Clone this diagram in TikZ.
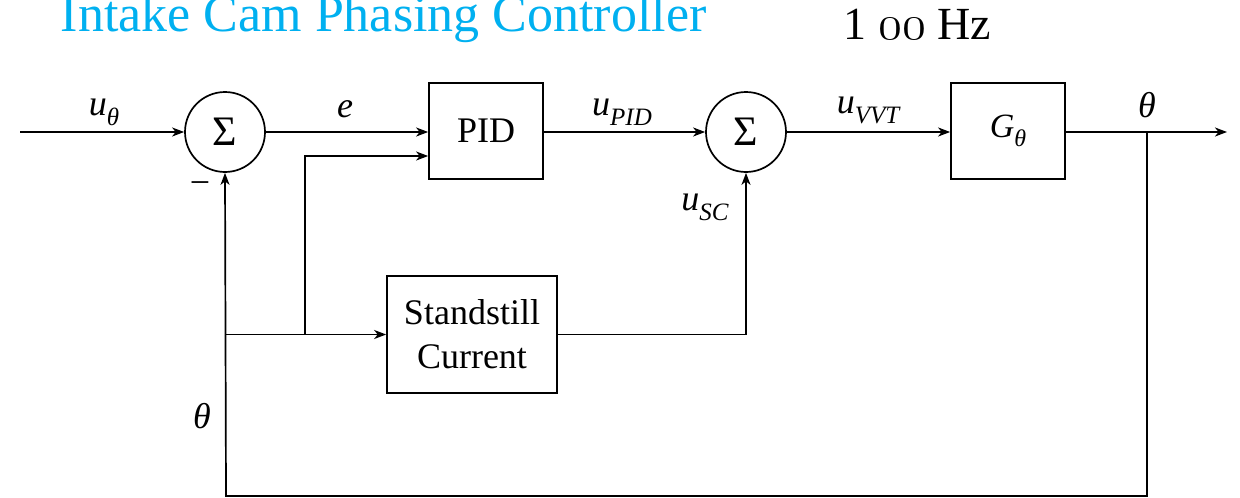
\documentclass[tikz,border=0pt]{standalone}
\usepackage{fontspec}
\setmainfont{Liberation Serif}
\usetikzlibrary{arrows.meta}
\definecolor{titlecyan}{RGB}{0,176,240}
\newcommand\subs[2][25]{\raisebox{-0.28em}{\fontsize{#1}{#1}\selectfont\itshape #2}}
\newcommand\oldnum[1]{\resizebox{!}{21pt}{\usefont{OML}{cmm}{m}{it}#1}}
\begin{document}
\begin{tikzpicture}[x=1pt,y=-1pt,
  line width=1.7pt,
  arr/.style={-{Stealth[length=12pt,width=9pt,inset=3.5pt]}},
  blk/.style={draw,rectangle,inner sep=0pt,font=\fontsize{36}{44}\selectfont,align=center},
  sumnode/.style={draw,circle,minimum size=80pt,inner sep=0pt,font=\fontsize{42}{42}\selectfont},
  lbl/.style={anchor=base,inner sep=0pt,font=\fontsize{36}{36}\selectfont}]
\useasboundingbox (0,0) rectangle (1240,498);
% title
\node[anchor=base west,inner sep=0pt,text=titlecyan,font=\fontsize{52}{52}\selectfont] (title) at (60,31) {Intake Cam Phasing Controller};
\node[anchor=base west,inner sep=0pt,font=\fontsize{46}{46}\selectfont] (hz) at (843,39) {1 \oldnum{00} Hz};
% blocks
\node[sumnode] (sum1) at (225,132) {Σ};
\node[blk,minimum width=114pt,minimum height=96pt] (pid) at (486,131) {PID};
\node[sumnode] (sum2) at (746,132) {Σ};
\node[blk,minimum width=114pt,minimum height=96pt] (G) at (1008,131) {\fontsize{34}{34}\selectfont\itshape G\subs[24]{θ}};
\node[blk,minimum width=170pt,minimum height=117pt] (sc) at (472,334.5) {Standstill\\Current};
% coordinates
\coordinate (in) at (20,132);
\coordinate (out) at (1227,132);
\coordinate (tap) at (1147,132);
\coordinate (fbr) at (1147,496);
\coordinate (fbl) at (226,496);
\coordinate (br) at (226,334.5);
\coordinate (br2) at (305,334.5);
% connectors
\draw[arr] (in) -- (sum1);
\draw[arr] (sum1.east) -- (sum1.east -| pid.west);
\draw[arr] (br2) |- ([yshift=-25pt]pid.west);
\draw[arr] (pid.east |- sum2) -- (sum2);
\draw[arr] (sum2.east) -- (sum2.east -| G.west);
\draw[arr] (G.east |- out) -- (out);
\draw[arr] (tap) -- (fbr) -- (fbl) -- (sum1.south);
\draw[arr] (br) -- (sc.west);
\draw[arr] (sc.east) -| (sum2.south);
% labels
\node[lbl] (luth) at (104,115) {\itshape u\subs{θ}};
\node[lbl] (le) at (345,117) {\itshape e};
\node[lbl] (lpid) at (622,115) {\itshape u\subs{PID}};
\node[lbl] (lvvt) at (868,113) {\itshape u\subs{VVT}};
\node[lbl] (lth) at (1147,117) {\itshape θ};
\node[lbl] (lsc) at (705,210) {\itshape u\subs{SC}};
\node[lbl] (lth2) at (202,428) {\itshape θ};
\node[inner sep=0pt,font=\fontsize{36}{36}\selectfont] (minus) at (200,188) {−};
\end{tikzpicture}
\end{document}
